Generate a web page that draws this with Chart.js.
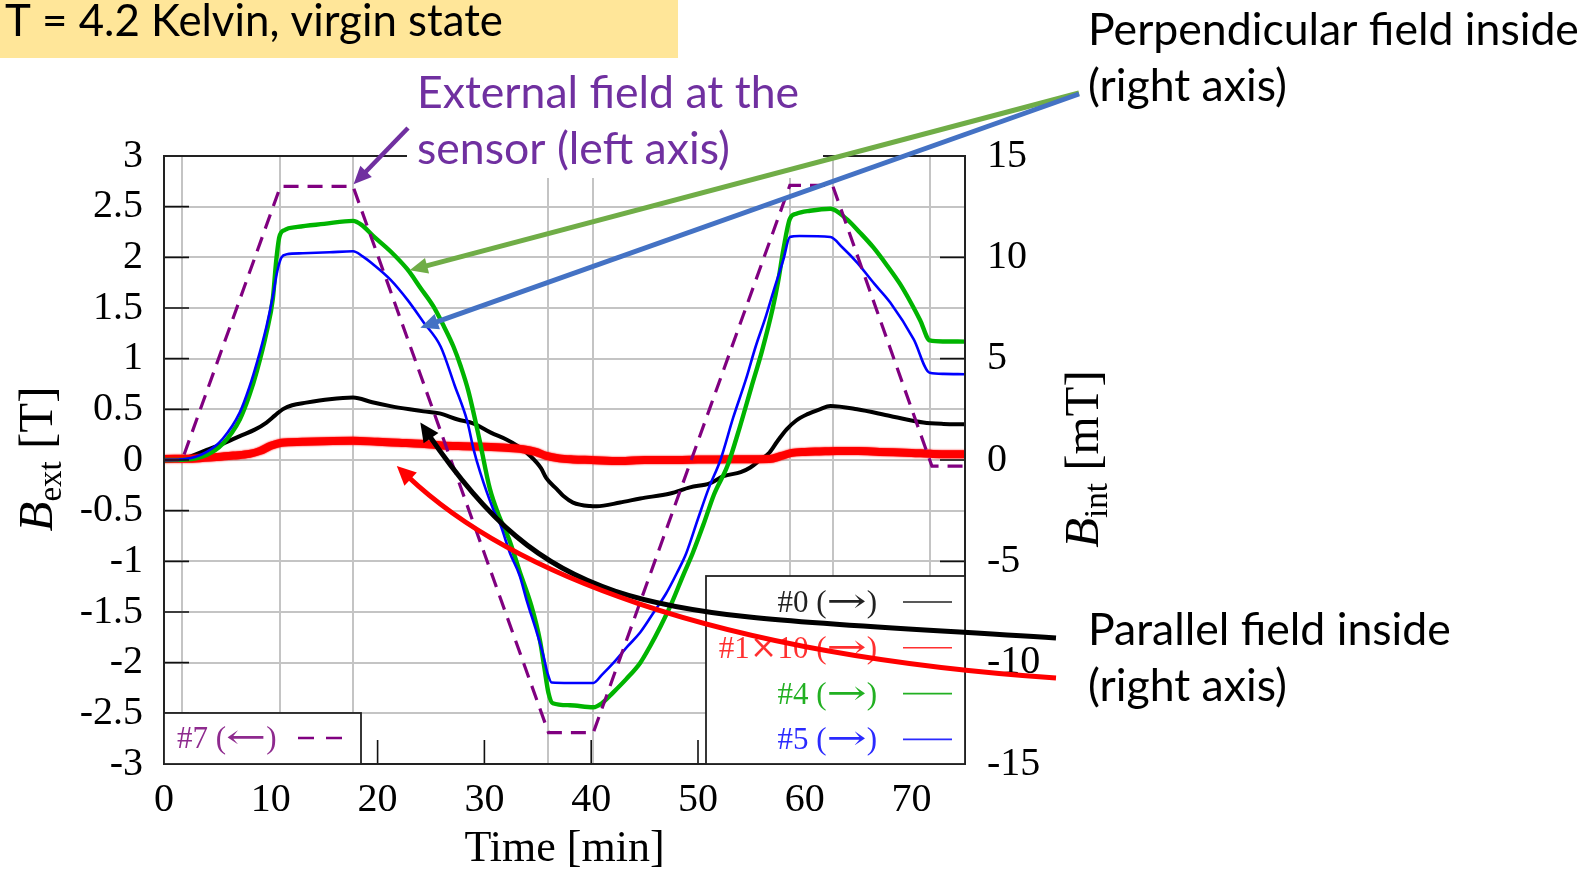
<!DOCTYPE html>
<html>
<head>
<meta charset="utf-8">
<script src="https://cdn.jsdelivr.net/npm/chart.js@4.4.0/dist/chart.umd.min.js"></script>
<style>
  html, body { margin: 0; padding: 0; background: #fff; overflow: hidden; }
  #wrap { position: relative; width: 1587px; height: 870px; }
</style>
</head>
<body>
<div id="wrap"><canvas id="c" width="1587" height="870"></canvas></div>
<script>
// ---- axes ----
const timeTicks = [0, 10, 20, 30, 40, 50, 60, 70];
const rampCorners = [1.7, 10.9, 17.7, 36.0, 40.2, 58.6, 62.6, 71.7];   // vertical grid lines (min)
const leftTicks = [-3, -2.5, -2, -1.5, -1, -0.5, 0, 0.5, 1, 1.5, 2, 2.5, 3];
const leftTickLabels = ['-3', '-2.5', '-2', '-1.5', '-1', '-0.5', '0', '0.5', '1', '1.5', '2', '2.5', '3'];
const rightTicks = [-15, -10, -5, 0, 5, 10, 15];
const rightTickLabels = ['-15', '-10', '-5', '0', '5', '10', '15'];

// ---- #7: external field at the sensor, B_ext [T] ----
const t7 = [0, 1.7, 10.9, 17.7, 36.0, 40.2, 58.6, 62.6, 71.9, 75];
const b7 = [0, 0, 2.7, 2.7, -2.69, -2.69, 2.71, 2.71, -0.06, -0.06];

// ---- #0: parallel field inside, B_int [mT] ----
const t0 = [0, 2, 4, 5.5, 7.1, 8.5, 9.6, 10.4, 11.1, 12.0, 13.3, 15.5, 17.7, 19.5, 21.2, 23.0, 24.3, 25.8, 27.5, 29.0,
            30.6, 32.1, 33.1, 34.3, 35.3, 35.8, 36.8, 37.4, 38.3, 39.9, 40.5, 42.7, 44.6, 47.4, 49.25, 51.1, 52.4, 54.0,
            54.9, 55.8, 56.7, 57.4, 58.3, 59.2, 60.2, 61.4, 62.4, 64.9, 68.0, 71.1, 73, 75];
const b0 = [0, 0.1, 0.5, 0.8, 1.18, 1.5, 1.85, 2.2, 2.5, 2.7, 2.83, 3.0, 3.08, 2.85, 2.66, 2.5, 2.4, 2.3, 2.0, 1.8,
            1.35, 1.0, 0.7, 0.2, -0.4, -0.9, -1.45, -1.78, -2.1, -2.27, -2.28, -2.1, -1.9, -1.65, -1.35, -1.15, -0.8, -0.6,
            -0.37, 0.0, 0.37, 0.9, 1.51, 1.95, 2.25, 2.5, 2.66, 2.5, 2.17, 1.85, 1.78, 1.76];

// ---- #1 (x10): parallel field inside, B_int [mT] ----
const t1 = [0, 3, 5, 6.5, 8, 9, 10, 11, 13, 15, 17.7, 20, 22, 24, 26, 28, 30, 32, 33.6, 34.8, 35.8, 37, 38.3, 40,
            42.7, 45, 48, 50, 52, 54, 56.7, 57.8, 58.8, 60, 61.4, 63, 65, 67, 70, 72, 75];
const b1 = [0.05, 0.08, 0.15, 0.22, 0.3, 0.45, 0.7, 0.85, 0.9, 0.93, 0.95, 0.9, 0.85, 0.8, 0.72, 0.68, 0.65, 0.6, 0.53, 0.4, 0.2, 0.08, 0.03, 0.0,
            -0.05, 0.0, 0.0, 0.02, 0.03, 0.04, 0.05, 0.2, 0.35, 0.4, 0.42, 0.44, 0.44, 0.4, 0.35, 0.3, 0.28];

// ---- #4: perpendicular field inside, B_int [mT] ----
const t4 = [0, 2, 4, 5.5, 7.1, 8.0, 8.7, 9.6, 10.2, 10.5, 10.8, 11.3, 12.5, 15, 17.7, 18.5, 19.6, 21.2, 22.8, 24.0,
            25.2, 26.2, 27.1, 27.8, 28.5, 29.5, 30.5, 31.4, 32.3, 33.3, 34.4, 35.2, 35.6, 36.0, 36.4, 38, 40.2, 41.0,
            42.0, 43.3, 44.6, 45.5, 46.5, 47.5, 48.6, 49.5, 50.5, 51.5, 52.75, 53.9, 55.0, 56.0, 57.0, 57.5, 58.0, 58.6,
            59.2, 60.5, 62.4, 63.9, 65.2, 66.4, 67.7, 68.9, 70.0, 70.8, 71.7, 73, 75];
const b4 = [0, 0.02, 0.25, 0.8, 2.0, 3.2, 4.4, 6.3, 8.0, 9.8, 11.0, 11.35, 11.5, 11.65, 11.8, 11.6, 11.05, 10.3, 9.4, 8.5,
            7.6, 6.6, 5.6, 4.6, 3.4, 1.1, -1.4, -2.8, -3.9, -5.5, -7.2, -8.9, -10.2, -11.5, -12.0, -12.1, -12.2, -12.0,
            -11.5, -10.8, -10.0, -9.2, -8.2, -7.1, -5.7, -4.6, -3.2, -1.7, -0.3, 1.6, 3.6, 5.4, 7.5, 8.8, 10.4, 11.9,
            12.15, 12.3, 12.4, 11.9, 11.2, 10.5, 9.6, 8.7, 7.7, 6.9, 5.9, 5.85, 5.84];

// ---- #5: perpendicular field inside, B_int [mT] ----
const t5 = [0, 2, 4, 5.5, 7.1, 8.0, 8.7, 9.6, 10.2, 10.6, 11.0, 11.5, 13, 15.5, 17.7, 18.6, 19.6, 21.2, 22.8, 24.3,
            25.9, 27.2, 28.4, 29.0, 29.6, 30.8, 31.5, 32.4, 33.3, 34.0, 34.9, 35.5, 35.9, 36.3, 38, 40.2, 41.0, 42.1,
            43.4, 44.6, 46.0, 47.0, 48.0, 48.9, 50.0, 51.0, 52.1, 53.3, 54.5, 55.4, 56.3, 57.05, 58.0, 58.6, 59.5, 62.4,
            63.5, 64.9, 66.5, 68.0, 70.2, 71.7, 73, 75];
const b5 = [0, 0.05, 0.4, 1.05, 2.35, 3.6, 4.8, 6.6, 8.1, 9.3, 10.0, 10.15, 10.2, 10.25, 10.3, 10.05, 9.65, 8.9, 7.9, 6.8,
            5.6, 3.7, 1.9, 0.5, -0.6, -2.4, -3.2, -4.6, -5.7, -7.0, -8.5, -9.6, -10.5, -10.98, -11.0, -11.0, -10.6, -10.0,
            -9.2, -8.5, -7.4, -6.6, -5.6, -4.6, -2.9, -1.4, 0.0, 2.1, 4.0, 5.6, 7.0, 8.3, 9.9, 11.0, 11.05, 11.0,
            10.5, 9.74, 8.7, 7.77, 5.95, 4.3, 4.25, 4.23];

const pts = (ts, vs) => ts.map((t, i) => ({ x: t, y: vs[i] }));

const serif = '"Liberation Serif", "DejaVu Serif", serif';
const symbolFont = '"DejaVu Serif", serif';
const sans = 'Lato, "Open Sans", sans-serif';

function fitSize(ctx, text, family, width) {
  ctx.font = `100px ${family}`;
  return 100 * width / ctx.measureText(text).width;
}

// legend label: arrows and the times sign come from a font with wider math glyphs;
// arrows are stretched to the long math-arrow proportions
function richRuns(text, size) {
  const runs = [];
  for (const ch of text) {
    const isArrow = '\u2192\u2190'.includes(ch);
    const isTimes = ch === '\u00D7';
    const font = isArrow ? `${size + 2}px ${symbolFont}` : isTimes ? `${size + 2}px ${symbolFont}` : `${size}px ${serif}`;
    const sx = isArrow ? 1.45 : 1;
    const last = runs[runs.length - 1];
    if (last && last.font === font && last.sx === sx) last.text += ch; else runs.push({ text: ch, font, sx });
  }
  return runs;
}
function drawRich(ctx, text, x, baseline, size, align) {
  const runs = richRuns(text, size);
  let w = 0;
  runs.forEach(r => { ctx.font = r.font; r.w = ctx.measureText(r.text).width * r.sx; w += r.w; });
  let px = align === 'right' ? x - w : x;
  ctx.textAlign = 'left';
  ctx.textBaseline = 'alphabetic';
  runs.forEach(r => {
    ctx.font = r.font;
    ctx.save();
    ctx.translate(px, baseline);
    ctx.scale(r.sx, 1);
    ctx.fillText(r.text, 0, 0);
    ctx.restore();
    px += r.w;
  });
}

function arrowHead(ctx, tip, dir, len, half, color) {
  const nx = -dir.y, ny = dir.x;
  const bx = tip.x - dir.x * len, by = tip.y - dir.y * len;
  ctx.fillStyle = color;
  ctx.beginPath();
  ctx.moveTo(tip.x, tip.y);
  ctx.lineTo(bx + nx * half, by + ny * half);
  ctx.lineTo(bx - nx * half, by - ny * half);
  ctx.closePath();
  ctx.fill();
}

function straightArrow(ctx, from, tip, color, width) {
  const dx = tip.x - from.x, dy = tip.y - from.y, d = Math.hypot(dx, dy);
  const dir = { x: dx / d, y: dy / d };
  const len = 18;
  ctx.strokeStyle = color; ctx.lineWidth = width; ctx.lineCap = 'butt';
  ctx.beginPath();
  ctx.moveTo(from.x, from.y);
  ctx.lineTo(tip.x - dir.x * len * 0.8, tip.y - dir.y * len * 0.8);
  ctx.stroke();
  arrowHead(ctx, tip, dir, len, 8, color);
}

function curvedArrow(ctx, p0, c1, back, tip, color, width) {
  // back: offset of the second control point from the tip
  const c2 = { x: tip.x + back.x, y: tip.y + back.y };
  const d = Math.hypot(back.x, back.y);
  const dir = { x: -back.x / d, y: -back.y / d };
  const len = 19;
  const end = { x: tip.x - dir.x * len * 0.8, y: tip.y - dir.y * len * 0.8 };
  ctx.strokeStyle = color; ctx.lineWidth = width; ctx.lineCap = 'butt';
  ctx.beginPath();
  ctx.moveTo(p0.x, p0.y);
  ctx.bezierCurveTo(c1.x, c1.y, c2.x, c2.y, end.x, end.y);
  ctx.stroke();
  arrowHead(ctx, tip, dir, len, 9, color);
}

// soft edge for the noisy x10 trace
const bandGlow = {
  id: 'bandGlow',
  beforeDatasetDraw(chart, args) {
    const ds = chart.data.datasets[args.index];
    if (ds.glow) { chart.ctx.save(); chart.ctx.shadowColor = ds.glow; chart.ctx.shadowBlur = 2; }
  },
  afterDatasetDraw(chart, args) {
    if (chart.data.datasets[args.index].glow) chart.ctx.restore();
  }
};

const decor = {
  id: 'decor',
  afterDatasetsDraw(chart) {
    const { ctx, chartArea: a, scales: { x, y, y1 } } = chart;
    ctx.save();
    // inward tick marks
    ctx.strokeStyle = '#111'; ctx.lineWidth = 1.6;
    ctx.beginPath();
    leftTicks.forEach(v => { const p = y.getPixelForValue(v); ctx.moveTo(a.left, p); ctx.lineTo(a.left + 25, p); });
    rightTicks.forEach(v => { const p = y1.getPixelForValue(v); ctx.moveTo(a.right - 25, p); ctx.lineTo(a.right, p); });
    timeTicks.forEach(v => { const p = x.getPixelForValue(v); ctx.moveTo(p, a.bottom); ctx.lineTo(p, a.bottom - 24); });
    ctx.stroke();
    // frame
    ctx.strokeStyle = '#222'; ctx.lineWidth = 2;
    ctx.strokeRect(a.left, a.top, a.right - a.left, a.bottom - a.top);

    // legend boxes
    const ds = chart.data.datasets;
    const right = ds.filter(d => d.legendSide === 'right');
    const left = ds.filter(d => d.legendSide === 'left');

    let bx = 706, by = 576;
    ctx.fillStyle = '#fff';
    ctx.fillRect(bx, by, a.right - bx, a.bottom - by);
    ctx.strokeStyle = '#222'; ctx.lineWidth = 1.8;
    ctx.strokeRect(bx, by, a.right - bx, a.bottom - by);
    right.forEach((d, i) => {
      const ry = by + 26 + i * 45.8;
      ctx.fillStyle = d.legendColor;
      drawRich(ctx, d.label, 877, ry + 10, 31, 'right');
      ctx.strokeStyle = d.legendColor; ctx.lineWidth = 1.6; ctx.setLineDash([]);
      ctx.beginPath(); ctx.moveTo(903, ry); ctx.lineTo(952, ry); ctx.stroke();
    });

    bx = a.left; by = 713;
    ctx.fillStyle = '#fff';
    ctx.fillRect(bx, by, 361 - bx, a.bottom - by);
    ctx.strokeStyle = '#222'; ctx.lineWidth = 1.8;
    ctx.strokeRect(bx, by, 361 - bx, a.bottom - by);
    left.forEach((d, i) => {
      const ry = by + 25 + i * 45.8;
      ctx.fillStyle = d.legendColor;
      drawRich(ctx, d.label, 177, ry + 10, 31, 'left');
      ctx.strokeStyle = d.borderColor; ctx.lineWidth = 2.4; ctx.setLineDash([16, 12]);
      ctx.beginPath(); ctx.moveTo(298, ry); ctx.lineTo(342, ry); ctx.stroke();
      ctx.setLineDash([]);
    });
    ctx.restore();
  },
  afterDraw(chart) {
    const { ctx, scales: { x, y, y1 } } = chart;
    ctx.save();
    ctx.textBaseline = 'alphabetic';

    // axis titles
    ctx.fillStyle = '#000';
    ctx.font = `44px ${serif}`;
    ctx.textAlign = 'center';
    ctx.fillText('Time [min]', (x.getPixelForValue(0) + x.getPixelForValue(75)) / 2, 861);

    const vertTitle = (cx, cy, sub, unit) => {
      ctx.save();
      ctx.translate(cx, cy);
      ctx.rotate(-Math.PI / 2);
      ctx.textAlign = 'left';
      const fB = `italic 49px ${serif}`, fS = `33px ${serif}`, fU = `49px ${serif}`;
      ctx.font = fB; const wB = ctx.measureText('B').width;
      ctx.font = fS; const wS = ctx.measureText(sub).width;
      ctx.font = fU; const wU = ctx.measureText(unit).width;
      let px = -(wB + wS + wU) / 2;
      ctx.font = fB; ctx.fillText('B', px, 0); px += wB;
      ctx.font = fS; ctx.fillText(sub, px, 9); px += wS;
      ctx.font = fU; ctx.fillText(unit, px, 0);
      ctx.restore();
    };
    vertTitle(52, 459, 'ext', ' [T]');
    vertTitle(1098, 459, 'int', ' [mT]');

    // title banner
    ctx.textAlign = 'left';
    ctx.fillStyle = '#FFE699';
    ctx.fillRect(0, 0, 678, 58);
    const title = 'T = 4.2 Kelvin, virgin state';
    const ts = fitSize(ctx, title, sans, 498);
    ctx.font = `${ts}px ${sans}`;
    ctx.fillStyle = '#000';
    ctx.fillText(title, 5, 36);

    // note for the external field
    const ns = fitSize(ctx, 'Perpendicular field inside', sans, 491);
    ctx.fillStyle = '#fff';
    ctx.fillRect(407, 62, 416, 116);
    ctx.font = `${ns}px ${sans}`;
    ctx.fillStyle = '#7030A0';
    ctx.fillText('External field at the', 417, 108);
    ctx.fillText('sensor (left axis)', 417, 164);

    ctx.fillStyle = '#000';
    ctx.fillText('Perpendicular field inside', 1088, 45);
    ctx.fillText('(right axis)', 1088, 101);
    ctx.fillText('Parallel field inside', 1088, 645);
    ctx.fillText('(right axis)', 1088, 701);

    // arrows
    const P = (t, v, sc) => ({ x: x.getPixelForValue(t), y: sc.getPixelForValue(v) });
    straightArrow(ctx, { x: 408, y: 128 }, P(17.75, 2.72, y), '#7030A0', 4.5);
    straightArrow(ctx, { x: 1079, y: 93 }, P(23.0, 9.36, y1), '#70AD47', 5);
    straightArrow(ctx, { x: 1079, y: 94 }, P(24.0, 6.53, y1), '#4472C4', 5);
    curvedArrow(ctx, { x: 1056, y: 638 }, { x: 656, y: 612 }, { x: 140, y: 205 }, P(24.0, 1.85, y1), '#000', 5);
    curvedArrow(ctx, { x: 1056, y: 678 }, { x: 706, y: 654 }, { x: 110, y: 104 }, P(21.8, -0.3, y1), '#FF0000', 5);
    ctx.restore();
  }
};

const tickFont = { family: serif, size: 40 };

new Chart(document.getElementById('c'), {
  type: 'line',
  data: {
    datasets: [
      { label: '#0 (\u2192)', data: pts(t0, b0), yAxisID: 'y1', borderColor: '#000', borderWidth: 4,
        cubicInterpolationMode: 'monotone', order: 5, legendSide: 'right', legendColor: '#222' },
      { label: '#1\u00D710 (\u2192)', data: pts(t1, b1), yAxisID: 'y1', borderColor: '#ff0000', borderWidth: 8,
        cubicInterpolationMode: 'monotone', order: 4, legendSide: 'right', legendColor: '#ff3030', glow: '#ff0000' },
      { label: '#4 (\u2192)', data: pts(t4, b4), yAxisID: 'y1', borderColor: '#00b400', borderWidth: 4.4,
        cubicInterpolationMode: 'monotone', order: 3, legendSide: 'right', legendColor: '#22b022' },
      { label: '#5 (\u2192)', data: pts(t5, b5), yAxisID: 'y1', borderColor: '#0000ff', borderWidth: 2.6,
        cubicInterpolationMode: 'monotone', order: 2, legendSide: 'right', legendColor: '#2a2aff' },
      { label: '#7 (\u2190)', data: pts(t7, b7), yAxisID: 'y', borderColor: '#800080', borderWidth: 3.2,
        borderDash: [15, 9], order: 1, legendSide: 'left', legendColor: '#8e2a8e' }
    ]
  },
  options: {
    responsive: false,
    animation: false,
    devicePixelRatio: 1,
    layout: { padding: { top: 156, left: 0, right: 0, bottom: 0 } },
    elements: { point: { radius: 0 }, line: { fill: false } },
    plugins: { legend: { display: false }, tooltip: { enabled: false }, title: { display: false } },
    scales: {
      x: {
        type: 'linear', min: 0, max: 75,
        afterBuildTicks: s => { s.ticks = [...timeTicks, ...rampCorners].sort((p, q) => p - q).map(v => ({ value: v })); },
        afterFit: s => { s.height = 106; },
        ticks: {
          autoSkip: false, maxRotation: 0, padding: 12, color: '#000', font: tickFont,
          callback: v => { const i = timeTicks.indexOf(v); return i >= 0 ? String(timeTicks[i]) : ''; }
        },
        grid: {
          drawTicks: false, lineWidth: 2,
          color: c => (c.tick && rampCorners.includes(c.tick.value)) ? '#c4c4c4' : 'rgba(0,0,0,0)'
        },
        border: { display: false }
      },
      y: {
        position: 'left', min: -3, max: 3,
        afterBuildTicks: s => { s.ticks = leftTicks.map(v => ({ value: v })); },
        afterFit: s => { s.width = 164; },
        ticks: {
          padding: 21, color: '#000', font: tickFont, autoSkip: false,
          callback: v => { const i = leftTicks.indexOf(v); return i >= 0 ? leftTickLabels[i] : ''; }
        },
        grid: { drawTicks: false, lineWidth: 2, color: '#c4c4c4' },
        border: { display: false }
      },
      y1: {
        position: 'right', min: -15, max: 15,
        afterBuildTicks: s => { s.ticks = rightTicks.map(v => ({ value: v })); },
        afterFit: s => { s.width = 622; },
        ticks: {
          padding: 22, color: '#000', font: tickFont, autoSkip: false,
          callback: v => { const i = rightTicks.indexOf(v); return i >= 0 ? rightTickLabels[i] : ''; }
        },
        grid: { drawTicks: false, drawOnChartArea: false },
        border: { display: false }
      }
    }
  },
  plugins: [bandGlow, decor]
});
</script>
</body>
</html>
